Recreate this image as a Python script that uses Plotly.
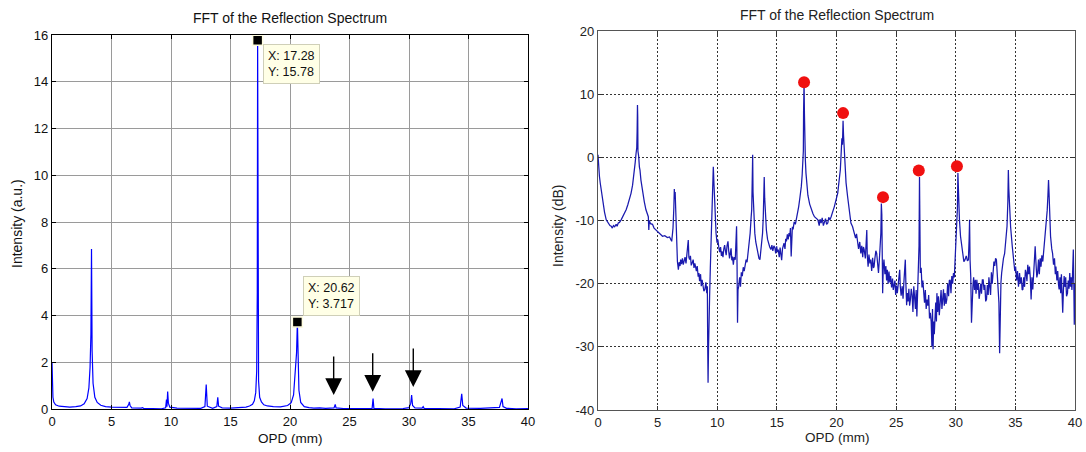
import plotly.graph_objects as go

# ---------------- data ----------------
# Left panel: linear intensity (a.u.) vs OPD (mm)
lin_opd = [0.0, 0.03, 0.08, 0.15, 0.3, 0.6, 1.0, 1.5, 2.0, 2.4, 2.7, 2.95, 3.1, 3.2, 3.27, 3.32, 3.37, 3.45,
           3.6, 3.8, 4.1, 4.5, 5.0, 5.8, 6.3, 6.45, 6.5, 6.56, 6.7, 7.5, 7.6, 7.7, 8.5, 9.2, 9.55, 9.62,
           9.66, 9.72, 9.78, 9.9, 10.5, 11.6, 11.7, 12.5, 12.85, 12.96, 13.05, 13.5, 13.85, 13.93, 14.0,
           14.3, 15.0, 15.8, 16.3, 16.6, 16.85, 17.0, 17.12, 17.2, 17.25, 17.28, 17.31, 17.36, 17.45,
           17.6, 17.8, 18.1, 18.6, 19.2, 19.8, 20.1, 20.3, 20.45, 20.55, 20.62, 20.67, 20.75, 20.9, 21.2,
           21.6, 22.0, 22.5, 23.0, 23.7, 23.8, 23.87, 24.5, 25.5, 26.9, 26.98, 27.05, 28.0, 29.5, 30.0,
           30.15, 30.22, 30.3, 30.5, 31.1, 31.19, 31.27, 32.5, 33.8, 34.3, 34.43, 34.52, 34.8, 36.0,
           37.6, 37.82, 37.9, 38.2, 39.0, 40.0]
lin_int = [2.0, 1.2, 0.5, 0.3, 0.18, 0.12, 0.09, 0.08, 0.1, 0.13, 0.22, 0.45, 0.9, 1.8, 3.2, 6.85, 2.5, 1.1,
           0.5, 0.28, 0.16, 0.1, 0.08, 0.07, 0.07, 0.2, 0.3, 0.15, 0.05, 0.04, 0.06, 0.03, 0.02, 0.01, 0.05,
           0.4, 0.1, 0.75, 0.25, 0.08, 0.04, 0.05, 0.02, 0.03, 0.1, 1.05, 0.12, 0.03, 0.1, 0.5, 0.12,
           0.05, 0.04, 0.05, 0.08, 0.13, 0.2, 0.35, 0.7, 1.6, 5.0, 15.78, 5.5, 1.2, 0.5,
           0.3, 0.18, 0.13, 0.1, 0.09, 0.15, 0.27, 0.6, 1.5, 2.4, 3.717, 1.8, 0.8, 0.28, 0.1,
           0.06, 0.04, 0.05, 0.03, 0.05, 0.2, 0.05, 0.02, 0.02, 0.03, 0.45, 0.03, 0.01, 0.02, 0.06,
           0.25, 0.6, 0.15, 0.05, 0.04, 0.1, 0.03, 0.02, 0.01, 0.08, 0.65, 0.15, 0.04, 0.03,
           0.07, 0.45, 0.1, 0.03, 0.01, 0.02]

# Data tips on the left panel
tip_x = [17.28, 20.62]
tip_y = [15.78, 3.717]

# Arrows on the left panel (tip positions)
arrow_x = [23.67, 26.95, 30.36]
arrow_y = [0.6, 0.74, 0.94]

# Right panel: (OPD mm, intensity dB) points
db_pairs = [
    (0.0, 0.4), (0.05, -1.5), (0.12, -3.0), (0.19, -4.1), (0.3, -5.8), (0.42, -7.3), (0.55, -8.7),
    (0.69, -9.9), (0.85, -10.5), (1.0, -10.8), (1.11, -10.9), (1.2, -11.2), (1.3, -10.8), (1.4, -11.0),
    (1.52, -10.6), (1.6, -10.9), (1.7, -10.4), (1.8, -10.3), (1.94, -9.9), (2.1, -9.3), (2.25, -8.7),
    (2.36, -8.3), (2.5, -7.5), (2.65, -6.6), (2.77, -5.7), (2.9, -4.4), (3.0, -3.0), (3.05, -2.0),
    (3.12, -0.8), (3.19, 0.6), (3.25, 1.5), (3.28, 4.0), (3.31, 8.3), (3.33, 6.5), (3.35, 1.0),
    (3.41, 0.2), (3.47, -1.5), (3.52, -2.0), (3.6, -3.6), (3.74, -5.7), (3.88, -7.0), (4.02, -8.3),
    (4.15, -9.0), (4.22, -9.4), (4.26, -11.5), (4.3, -10.0), (4.4, -10.5), (4.57, -10.6), (4.7, -11.2),
    (4.85, -11.5), (4.99, -11.7), (5.2, -12.2), (5.41, -12.5), (5.6, -12.4), (5.82, -12.7), (6.0, -12.6),
    (6.1, -13.2), (6.18, -13.3), (6.25, -12.0), (6.29, -11.2), (6.36, -8.0), (6.40, -5.0), (6.43, -6.5),
    (6.47, -5.5), (6.52, -8.4), (6.56, -12.0), (6.60, -14.6), (6.66, -16.5), (6.74, -17.8), (6.8, -16.6),
    (6.88, -17.2), (6.93, -16.2), (7.0, -16.9), (7.08, -16.0), (7.15, -17.0), (7.21, -16.4), (7.3, -15.8),
    (7.38, -16.8), (7.45, -15.5), (7.52, -14.2), (7.57, -13.1), (7.62, -15.8), (7.68, -16.2), (7.75, -15.6),
    (7.82, -17.1), (7.90, -16.7), (7.98, -16.2), (8.05, -17.5), (8.12, -16.8), (8.18, -17.3), (8.25, -18.0),
    (8.32, -17.2), (8.40, -18.9), (8.46, -18.3), (8.52, -19.6), (8.6, -18.5), (8.66, -20.4), (8.73, -19.4),
    (8.8, -20.0), (8.88, -21.2), (8.96, -20.9), (9.05, -19.8), (9.12, -21.5), (9.17, -20.4), (9.20, -29.9),
    (9.23, -35.7), (9.27, -30.0), (9.30, -23.6), (9.36, -22.0), (9.42, -17.5), (9.48, -13.5), (9.54, -10.5),
    (9.58, -4.5), (9.62, -6.0), (9.67, -1.5), (9.72, -4.0), (9.76, -6.7), (9.82, -10.0), (9.90, -12.0),
    (9.98, -13.5), (10.05, -13.0), (10.12, -14.1), (10.2, -15.0), (10.28, -14.2), (10.35, -15.6),
    (10.40, -14.9), (10.48, -15.8), (10.55, -14.5), (10.62, -13.9), (10.67, -14.6), (10.75, -15.5),
    (10.82, -14.0), (10.90, -13.3), (10.96, -14.8), (11.03, -16.0), (11.09, -15.2), (11.16, -14.4),
    (11.22, -16.3), (11.28, -15.7), (11.35, -17.0), (11.42, -15.8), (11.51, -16.2), (11.58, -13.0),
    (11.62, -10.9), (11.66, -17.0), (11.70, -26.2), (11.74, -21.0), (11.80, -20.4), (11.88, -19.0),
    (11.95, -20.5), (12.02, -18.2), (12.1, -18.8), (12.18, -17.4), (12.26, -18.0), (12.34, -17.3),
    (12.42, -16.2), (12.50, -16.6), (12.56, -15.7), (12.64, -14.5), (12.70, -13.2), (12.76, -12.0),
    (12.84, -9.5), (12.89, -8.3), (12.93, -4.0), (12.97, 0.4), (13.0, -5.5), (13.06, -9.4), (13.15, -12.0),
    (13.23, -13.4), (13.31, -14.1), (13.40, -15.2), (13.5, -16.0), (13.58, -16.2), (13.65, -15.0),
    (13.72, -14.1), (13.8, -12.0), (13.86, -9.4), (13.91, -5.0), (13.94, -3.1), (13.98, -6.5), (14.03, -8.8),
    (14.12, -11.5), (14.22, -13.0), (14.3, -13.8), (14.40, -14.2), (14.50, -14.6), (14.58, -13.9),
    (14.66, -14.8), (14.75, -14.0), (14.83, -14.3), (14.9, -15.2), (14.98, -14.1), (15.05, -15.0),
    (15.11, -14.6), (15.2, -15.8), (15.27, -14.3), (15.33, -15.2), (15.40, -16.3), (15.47, -14.5),
    (15.53, -14.1), (15.6, -13.6), (15.68, -14.5), (15.74, -12.9), (15.80, -13.3), (15.88, -12.2),
    (15.95, -13.0), (16.02, -12.0), (16.08, -12.5), (16.14, -11.2), (16.20, -15.7), (16.24, -11.8),
    (16.3, -11.0), (16.36, -11.4), (16.45, -10.2), (16.55, -10.6), (16.63, -9.9), (16.73, -8.9),
    (16.83, -7.8), (16.93, -6.4), (17.0, -5.5), (17.05, -4.6), (17.12, -2.8), (17.19, -0.9), (17.22, 1.0),
    (17.24, 7.4), (17.28, 11.9), (17.31, 7.0), (17.34, 0.5), (17.39, -0.5), (17.44, -2.5), (17.50, -4.6),
    (17.6, -6.0), (17.75, -7.4), (17.88, -8.3), (18.02, -8.9), (18.15, -9.4), (18.3, -9.6), (18.44, -9.9),
    (18.55, -10.8), (18.62, -9.8), (18.71, -10.4), (18.8, -9.6), (18.9, -10.8), (18.99, -10.2),
    (19.08, -9.7), (19.17, -10.6), (19.27, -10.4), (19.35, -9.5), (19.45, -9.9), (19.55, -9.4),
    (19.65, -8.9), (19.74, -8.2), (19.82, -7.8), (19.95, -6.8), (20.10, -5.7), (20.2, -4.0), (20.32, -2.0),
    (20.40, 1.0), (20.45, 3.0), (20.50, 2.0), (20.55, 5.8), (20.59, 3.5), (20.63, 2.2), (20.68, -1.0),
    (20.71, -2.0), (20.8, -4.0), (20.93, -6.2), (21.05, -8.0), (21.21, -10.4), (21.35, -11.0),
    (21.49, -12.0), (21.6, -12.8), (21.68, -12.1), (21.76, -13.6), (21.85, -14.5), (21.95, -13.4),
    (22.04, -15.2), (22.12, -14.0), (22.2, -15.8), (22.26, -14.2), (22.32, -14.6), (22.42, -16.0),
    (22.50, -13.0), (22.54, -11.5), (22.58, -15.5), (22.65, -17.3), (22.72, -15.4), (22.8, -16.8),
    (22.87, -16.2), (22.95, -18.0), (23.03, -15.9), (23.1, -17.5), (23.15, -17.3), (23.22, -16.0),
    (23.3, -14.8), (23.37, -15.2), (23.45, -17.1), (23.52, -18.3), (23.6, -16.0), (23.66, -14.1),
    (23.72, -12.0), (23.76, -7.3), (23.80, -9.0), (23.84, -16.0), (23.87, -21.5), (23.92, -17.5),
    (23.98, -16.2), (24.06, -18.5), (24.14, -17.2), (24.2, -19.5), (24.26, -17.8), (24.33, -20.0),
    (24.4, -18.1), (24.47, -19.8), (24.54, -18.8), (24.62, -20.6), (24.7, -19.2), (24.76, -21.0),
    (24.82, -20.4), (24.9, -19.5), (24.96, -21.8), (25.03, -20.3), (25.10, -21.5), (25.17, -20.0),
    (25.24, -19.2), (25.3, -17.8), (25.35, -20.5), (25.42, -21.9), (25.51, -20.4), (25.58, -22.4),
    (25.65, -19.8), (25.72, -18.3), (25.77, -16.2), (25.82, -20.0), (25.88, -23.4), (25.94, -21.5),
    (26.0, -22.8), (26.07, -20.8), (26.13, -23.5), (26.20, -22.5), (26.27, -20.8), (26.34, -21.8),
    (26.41, -24.5), (26.48, -20.4), (26.55, -22.5), (26.62, -24.0), (26.68, -21.0), (26.74, -25.2),
    (26.80, -21.5), (26.86, -18.3), (26.92, -14.0), (26.96, -3.1), (26.99, -10.5), (27.03, -18.3),
    (27.10, -17.5), (27.17, -20.6), (27.24, -19.5), (27.31, -21.5), (27.38, -23.0), (27.45, -21.0),
    (27.52, -24.0), (27.59, -22.5), (27.66, -23.5), (27.73, -21.8), (27.80, -25.5), (27.87, -24.6),
    (27.94, -26.0), (28.0, -29.9), (28.05, -24.0), (28.10, -30.4), (28.15, -26.0), (28.20, -28.0),
    (28.26, -25.7), (28.32, -23.0), (28.38, -26.0), (28.42, -21.5), (28.48, -24.5), (28.55, -22.0),
    (28.62, -25.0), (28.70, -23.0), (28.77, -21.0), (28.84, -24.0), (28.9, -22.0), (28.97, -20.9),
    (29.04, -23.5), (29.1, -21.5), (29.18, -23.2), (29.25, -22.5), (29.32, -20.0), (29.4, -22.0),
    (29.46, -19.5), (29.53, -19.4), (29.6, -21.5), (29.67, -18.8), (29.74, -20.0), (29.81, -18.3),
    (29.88, -19.0), (29.95, -16.5), (30.03, -14.1), (30.10, -11.0), (30.14, -8.0), (30.18, -2.5),
    (30.22, -5.0), (30.26, -9.0), (30.31, -9.9), (30.40, -12.5), (30.50, -14.1), (30.6, -15.5),
    (30.68, -16.5), (30.78, -16.2), (30.88, -15.6), (30.98, -16.4), (31.06, -16.2), (31.12, -13.0),
    (31.16, -9.9), (31.20, -16.2), (31.26, -19.0), (31.32, -26.2), (31.38, -21.5), (31.44, -20.4),
    (31.5, -19.0), (31.57, -21.0), (31.64, -19.4), (31.7, -21.6), (31.77, -19.4), (31.84, -21.0),
    (31.9, -20.0), (31.96, -22.4), (32.02, -21.5), (32.1, -20.0), (32.16, -21.6), (32.23, -19.4),
    (32.3, -19.4), (32.37, -21.0), (32.44, -20.2), (32.51, -22.8), (32.58, -22.5), (32.65, -20.2),
    (32.72, -21.8), (32.78, -19.0), (32.85, -20.4), (32.92, -21.8), (32.99, -18.2), (33.06, -20.0),
    (33.13, -18.3), (33.2, -16.5), (33.27, -17.2), (33.34, -16.0), (33.41, -16.2), (33.48, -18.0),
    (33.55, -20.4), (33.62, -23.0), (33.68, -31.0), (33.73, -24.0), (33.79, -19.8), (33.85, -18.3),
    (33.92, -17.0), (34.0, -16.0), (34.10, -15.2), (34.20, -13.2), (34.30, -10.9), (34.37, -7.0),
    (34.41, -2.0), (34.45, -5.0), (34.52, -8.4), (34.6, -11.0), (34.74, -14.1), (34.85, -16.0),
    (34.95, -18.0), (35.02, -17.3), (35.1, -19.5), (35.18, -18.0), (35.26, -20.5), (35.35, -18.3),
    (35.42, -20.0), (35.5, -19.0), (35.57, -21.0), (35.63, -20.9), (35.7, -19.0), (35.77, -20.5),
    (35.84, -17.8), (35.90, -18.3), (35.97, -19.6), (36.04, -17.0), (36.11, -18.5), (36.18, -17.3),
    (36.25, -19.0), (36.32, -22.5), (36.39, -19.0), (36.46, -20.9), (36.53, -18.0), (36.6, -16.5),
    (36.66, -14.1), (36.72, -16.5), (36.8, -19.0), (36.87, -18.3), (36.94, -16.2), (37.01, -18.5),
    (37.08, -16.0), (37.15, -17.3), (37.22, -15.5), (37.3, -16.5), (37.37, -15.0), (37.43, -14.1),
    (37.52, -12.0), (37.6, -10.5), (37.67, -8.4), (37.73, -6.0), (37.78, -3.6), (37.82, -5.5),
    (37.87, -9.9), (37.95, -12.5), (38.05, -14.5), (38.12, -15.2), (38.2, -17.0), (38.28, -16.0),
    (38.35, -18.5), (38.40, -17.3), (38.48, -19.5), (38.55, -18.0), (38.62, -20.2), (38.67, -20.9),
    (38.74, -19.0), (38.8, -21.5), (38.86, -18.5), (38.92, -22.0), (38.97, -24.6), (39.03, -21.0),
    (39.09, -18.8), (39.15, -20.5), (39.22, -19.0), (39.29, -22.0), (39.37, -21.5), (39.43, -19.5),
    (39.5, -20.8), (39.56, -18.3), (39.62, -20.5), (39.68, -19.0), (39.74, -21.0), (39.78, -19.4),
    (39.83, -17.0), (39.86, -14.6), (39.9, -20.0), (39.94, -26.5), (39.97, -22.0), (40.0, -20.0),
]
db_opd = [p[0] for p in db_pairs]
db_int = [p[1] for p in db_pairs]

# Marked peaks (red dots) on the right panel
dot_x = [17.28, 20.55, 23.9, 26.9, 30.1]
dot_y = [11.9, 7.0, -6.3, -2.1, -1.4]

# Axis ticks
x_ticks = [0, 5, 10, 15, 20, 25, 30, 35, 40]
lin_ticks = [0, 2, 4, 6, 8, 10, 12, 14, 16]
db_ticks = [-40, -30, -20, -10, 0, 10, 20]

# ---------------- figure ----------------
FONT = "Liberation Sans, Arial, sans-serif"
W, H = 1086, 452

fig = go.Figure()

fig.add_trace(go.Scatter(x=lin_opd, y=lin_int, mode="lines", xaxis="x", yaxis="y",
                         line=dict(color="#0000ff", width=1.2), showlegend=False))
fig.add_trace(go.Scatter(x=tip_x, y=tip_y, mode="markers", xaxis="x", yaxis="y",
                         marker=dict(symbol="square", size=10, color="black",
                                     line=dict(color="#fffde0", width=1.5)),
                         showlegend=False, cliponaxis=False))
fig.add_trace(go.Scatter(x=db_opd, y=db_int, mode="lines", xaxis="x2", yaxis="y2",
                         line=dict(color="#1a1aae", width=1.25), showlegend=False))
fig.add_trace(go.Scatter(x=dot_x, y=dot_y, mode="markers", xaxis="x2", yaxis="y2",
                         marker=dict(size=12, color="#f01010"), showlegend=False))

def px_x(p):
    return p / W

def px_y(p):
    return 1 - p / H

axis_font = dict(family=FONT, size=13, color="#111111")
axis_font2 = dict(family=FONT, size=13, color="#222222")

fig.update_layout(
    width=W, height=H, autosize=False,
    margin=dict(l=0, r=0, t=0, b=0),
    paper_bgcolor="white", plot_bgcolor="white",
    xaxis=dict(domain=[px_x(52), px_x(528)], range=[0, 40], tickvals=x_ticks,
               showgrid=True, gridcolor="#9a9a9a", gridwidth=1,
               showline=True, linecolor="black", linewidth=1.2, mirror="ticks",
               ticks="inside", ticklen=4, tickcolor="black",
               zeroline=False, tickfont=axis_font, anchor="y", automargin=False),
    yaxis=dict(domain=[px_y(409), px_y(35)], range=[0, 16], tickvals=lin_ticks,
               showgrid=True, gridcolor="#9a9a9a", gridwidth=1,
               showline=True, linecolor="black", linewidth=1.2, mirror="ticks",
               ticks="inside", ticklen=4, tickcolor="black",
               zeroline=False, tickfont=axis_font, anchor="x", automargin=False),
    xaxis2=dict(domain=[px_x(598), px_x(1075)], range=[0, 40], tickvals=x_ticks,
                showgrid=True, gridcolor="#333333", gridwidth=1.2, griddash="1.5px,2.5px",
                showline=True, linecolor="#555555", linewidth=1.4, mirror="ticks",
                ticks="inside", ticklen=4, tickcolor="#333333",
                zeroline=False, tickfont=axis_font2, anchor="y2", automargin=False),
    yaxis2=dict(domain=[px_y(410), px_y(31)], range=[-40, 20], tickvals=db_ticks,
                ticktext=[str(v) for v in db_ticks],
                showgrid=True, gridcolor="#333333", gridwidth=1.2, griddash="1.5px,2.5px",
                showline=True, linecolor="#555555", linewidth=1.4, mirror="ticks",
                ticks="inside", ticklen=4, tickcolor="#333333",
                zeroline=False, tickfont=axis_font2, anchor="x2", automargin=False),
)

ann = []
# titles
ann.append(dict(text="FFT of the Reflection Spectrum", xref="paper", yref="paper",
                x=px_x(290), y=px_y(18), xanchor="center", yanchor="middle", showarrow=False,
                font=dict(family=FONT, size=14, color="#111111")))
ann.append(dict(text="FFT of the Reflection Spectrum", xref="paper", yref="paper",
                x=px_x(837), y=px_y(15), xanchor="center", yanchor="middle", showarrow=False,
                font=dict(family=FONT, size=14, color="#222222")))
# axis titles
ann.append(dict(text="OPD (mm)", xref="paper", yref="paper", x=px_x(290), y=px_y(438),
                xanchor="center", yanchor="middle", showarrow=False,
                font=dict(family=FONT, size=13.5, color="#111111")))
ann.append(dict(text="OPD (mm)", xref="paper", yref="paper", x=px_x(837), y=px_y(437),
                xanchor="center", yanchor="middle", showarrow=False,
                font=dict(family=FONT, size=13.5, color="#222222")))
ann.append(dict(text="Intensity (a.u.)", xref="paper", yref="paper", x=px_x(17), y=px_y(224),
                xanchor="center", yanchor="middle", textangle=-90, showarrow=False,
                font=dict(family=FONT, size=14, color="#111111")))
ann.append(dict(text="Intensity (dB)", xref="paper", yref="paper", x=px_x(558), y=px_y(226),
                xanchor="center", yanchor="middle", textangle=-90, showarrow=False,
                font=dict(family=FONT, size=14, color="#222222")))
# data tip boxes
tip_text = ["X: %.2f<br>Y: %.2f" % (tip_x[0], tip_y[0]),
            "X: %.2f<br>Y: %.3f" % (tip_x[1], tip_y[1])]
tip_box = [(263, 44.5), (303, 276)]
for t, (bx, by) in zip(tip_text, tip_box):
    ann.append(dict(text=t, xref="paper", yref="paper", x=px_x(bx), y=px_y(by),
                    xanchor="left", yanchor="top", align="left", showarrow=False,
                    bgcolor="#ffffe6", bordercolor="#cfcfb8", borderwidth=1, borderpad=4,
                    font=dict(family=FONT, size=12.5, color="#111111")))
# arrows
for axp, ayp in zip(arrow_x, arrow_y):
    ann.append(dict(x=axp, y=ayp, xref="x", yref="y", text="", showarrow=True,
                    ax=0, ay=-40, arrowhead=2, arrowsize=2.4, arrowwidth=1.4,
                    arrowcolor="black"))
fig.update_layout(annotations=ann)

fig.write_html("out.html")
